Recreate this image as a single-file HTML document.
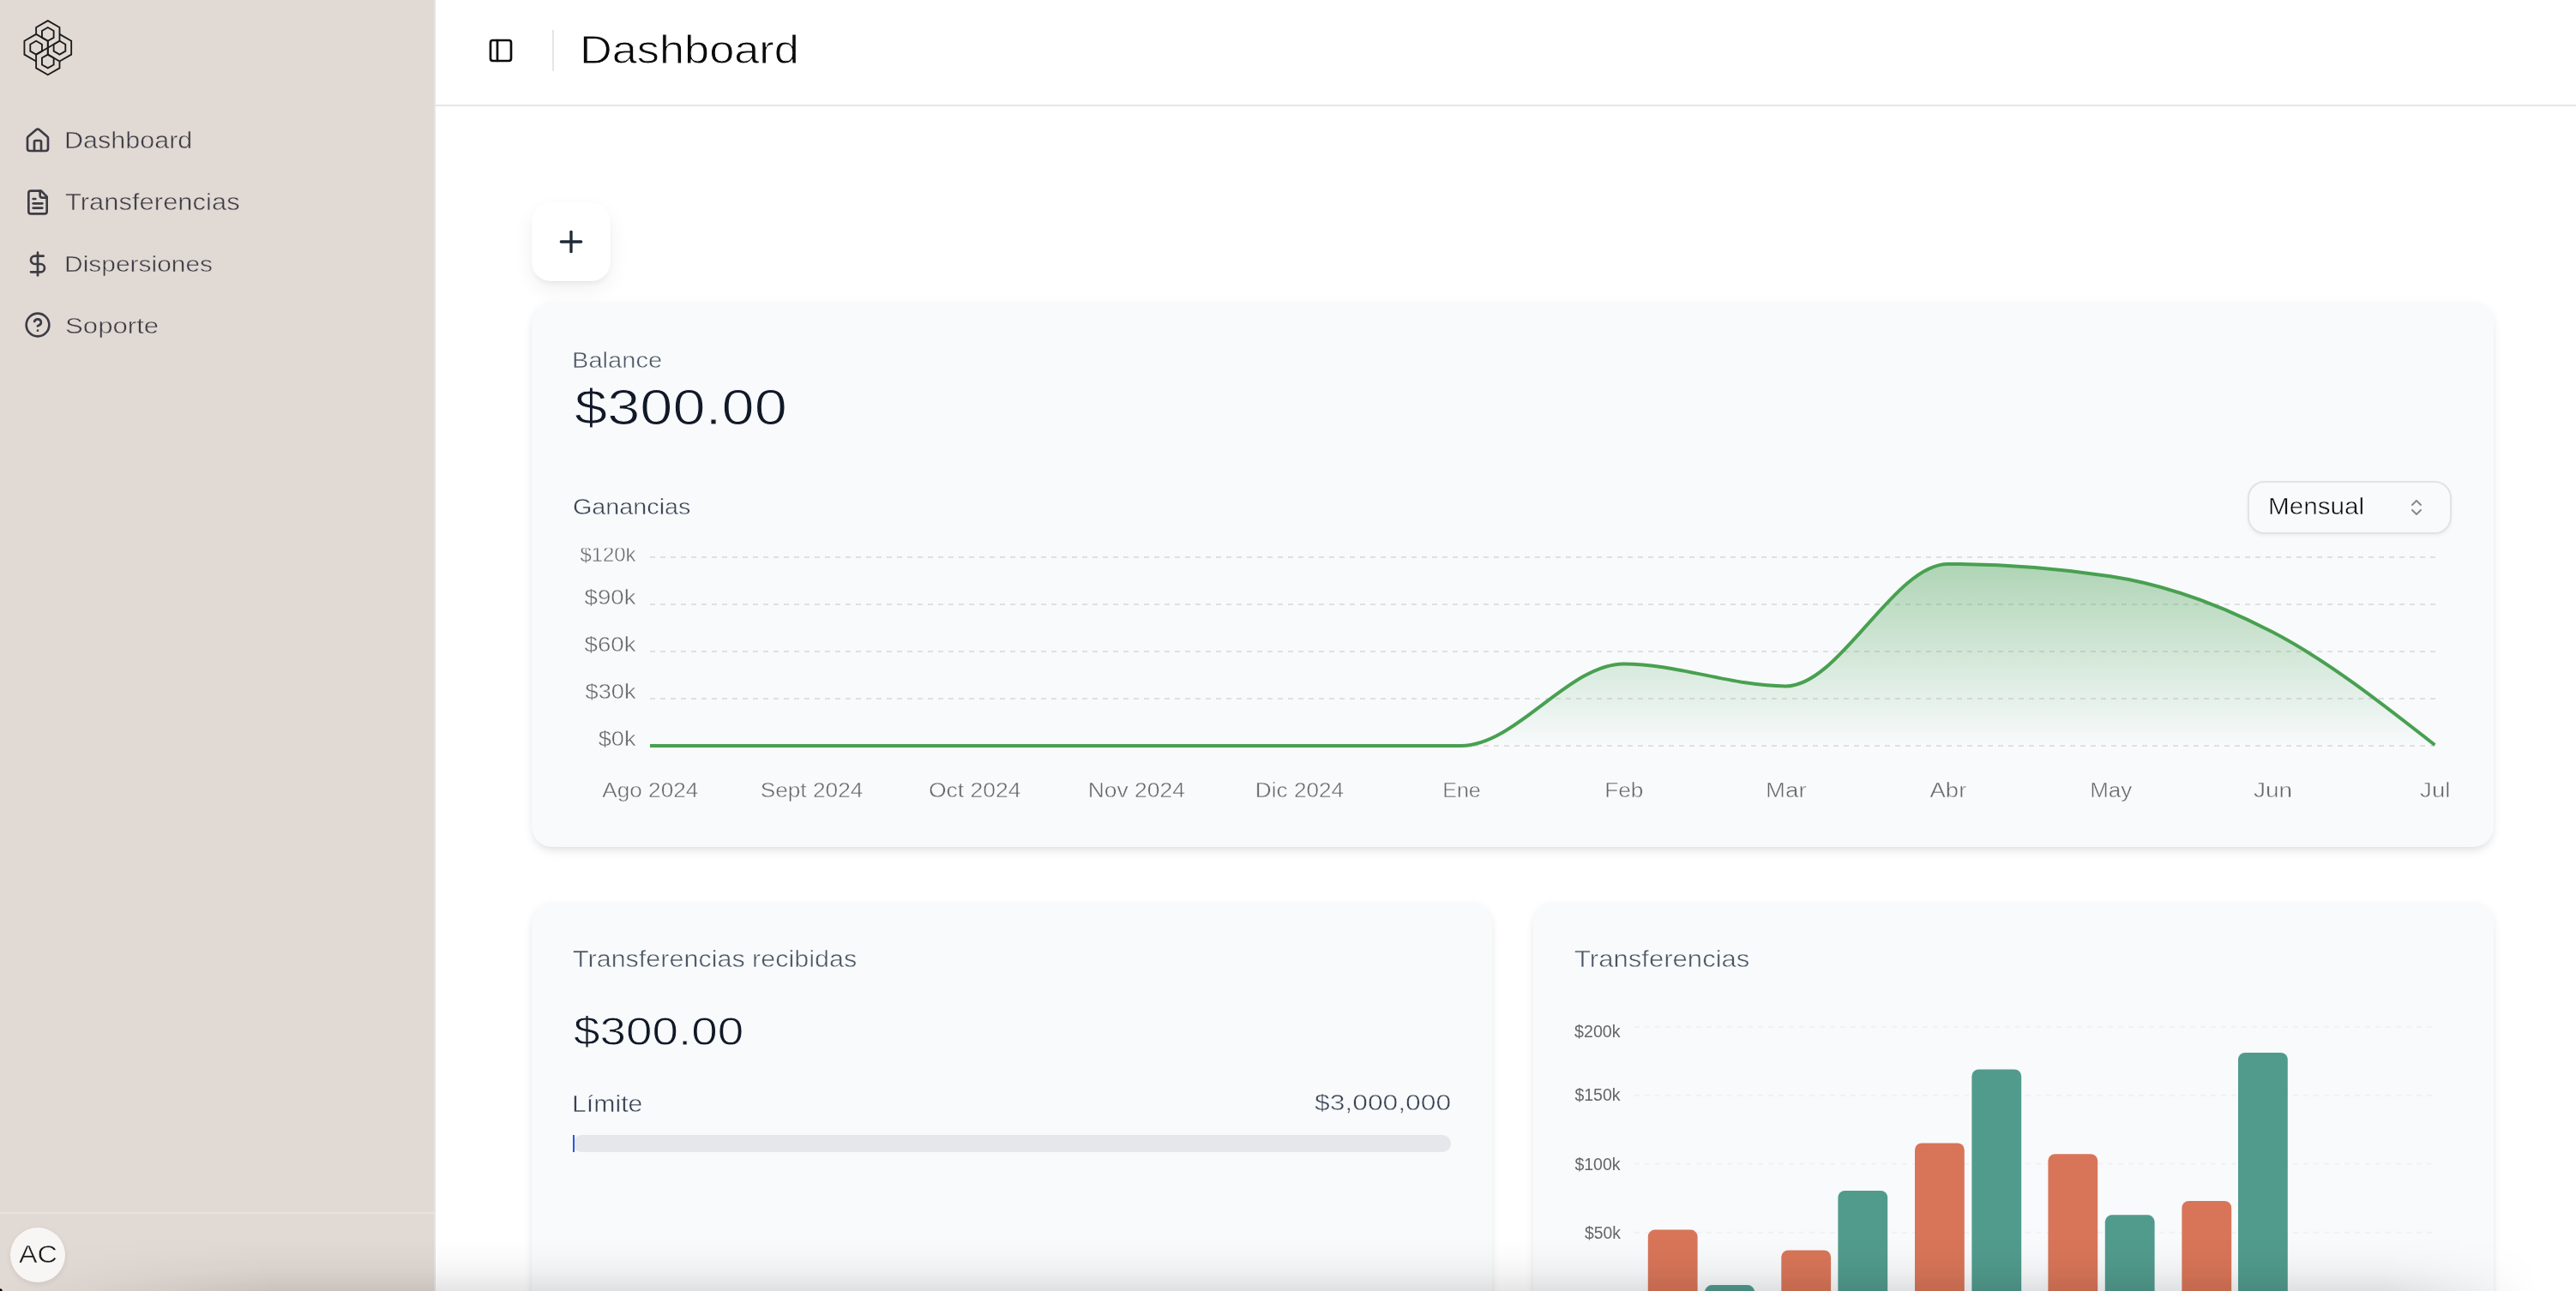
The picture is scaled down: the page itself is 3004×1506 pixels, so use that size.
<!DOCTYPE html><html><head><meta charset="utf-8"><style>
html,body{margin:0;padding:0;width:3004px;height:1506px;overflow:hidden;background:#fff;font-family:"Liberation Sans",sans-serif}
.abs{position:absolute}
.t{position:absolute;line-height:1;white-space:nowrap;transform-origin:0 0;font-family:"Liberation Sans",sans-serif}
.yl{text-align:right}
.yl span{display:inline-block;transform-origin:100% 0}
.xl{text-align:center}
.xl span{display:inline-block;transform-origin:50% 0}
#sb{position:absolute;left:0;top:0;width:506px;height:1506px;background:#e1d9d4}
#avatar{left:12px;top:1432px;width:64px;height:64px;border-radius:50%;background:#f8f6f4;box-shadow:0 2px 6px rgba(0,0,0,0.08)}
#plus{left:620px;top:236px;width:92px;height:92px;border-radius:22px;background:#fff;box-shadow:0 10px 24px rgba(0,0,0,0.06),0 4px 6px -2px rgba(0,0,0,0.06),0 0 2px rgba(0,0,0,0.02)}
.card{background:#f8fafc;border-radius:24px;box-shadow:0 8px 14px -3px rgba(0,0,0,0.06),0 4px 8px -4px rgba(0,0,0,0.05),0 3px 11px rgba(0,0,0,0.05)}
#sel{left:2621px;top:561px;width:234px;height:58px;border:2px solid #e3e3e3;border-radius:20px;background:#f8fafc;box-shadow:0 2px 4px rgba(0,0,0,0.05)}
#shade{left:0;top:1444px;width:3004px;height:62px;background:linear-gradient(to bottom,rgba(0,0,0,0) 0%,rgba(0,0,0,0.015) 35%,rgba(0,0,0,0.045) 65%,rgba(0,0,0,0.1) 100%);-webkit-mask-image:linear-gradient(to right,transparent 0,#000 320px,#000 2780px,transparent 2960px);mask-image:linear-gradient(to right,transparent 0,#000 320px,#000 2780px,transparent 2960px)}
</style></head><body><div id="sb"></div>
<svg class="abs" width="3004" height="1506" style="left:0;top:0"><g fill="none" stroke="#1c1c1c" stroke-width="1.85" stroke-linejoin="miter"><polyline points="42.12,39.90 42.12,32.00 55.80,24.10 69.48,32.00 69.48,47.80 55.80,55.70"/><polyline points="69.48,71.50 69.48,79.40 55.80,87.30 42.12,79.40 42.12,63.60 55.80,55.70"/><polyline points="42.12,71.50 28.43,63.60 28.43,47.80 42.12,39.90 55.80,47.80 55.80,63.60"/><polyline points="69.48,39.90 83.17,47.80 83.17,63.60 69.48,71.50 55.80,63.60 55.80,47.80"/><polygon points="55.80,32.00 62.64,35.95 62.64,43.85 55.80,47.80 48.96,43.85 48.96,35.95"/><polygon points="42.12,47.80 48.96,51.75 48.96,59.65 42.12,63.60 35.28,59.65 35.28,51.75"/><polygon points="69.48,47.80 76.32,51.75 76.32,59.65 69.48,63.60 62.64,59.65 62.64,51.75"/><polygon points="55.80,63.60 62.64,67.55 62.64,75.45 55.80,79.40 48.96,75.45 48.96,67.55"/></g></svg>
<svg class="abs" style="left:28px;top:147.8px" width="32" height="32" viewBox="0 0 24 24" fill="none" stroke="#3d3c44" stroke-width="2" stroke-linecap="round" stroke-linejoin="round"><path d="M15 21v-8a1 1 0 0 0-1-1h-4a1 1 0 0 0-1 1v8"/><path d="M3 10a2 2 0 0 1 .709-1.528l7-5.999a2 2 0 0 1 2.582 0l7 5.999A2 2 0 0 1 21 10v9a2 2 0 0 1-2 2H5a2 2 0 0 1-2-2z"/></svg>
<div class="t" style="left:74.72px;top:150.57px;font-size:26.74px;transform:scaleX(1.1414);color:#3d3c44;-webkit-text-stroke:0.50px #e1d9d4;">Dashboard</div>
<svg class="abs" style="left:28px;top:219.7px" width="32" height="32" viewBox="0 0 24 24" fill="none" stroke="#3d3c44" stroke-width="2" stroke-linecap="round" stroke-linejoin="round"><path d="M15 2H6a2 2 0 0 0-2 2v16a2 2 0 0 0 2 2h12a2 2 0 0 0 2-2V7Z"/><path d="M14 2v4a2 2 0 0 0 2 2h4"/><path d="M10 9H8"/><path d="M16 13H8"/><path d="M16 17H8"/></svg>
<div class="t" style="left:75.62px;top:221.74px;font-size:27.59px;transform:scaleX(1.1229);color:#3d3c44;-webkit-text-stroke:0.52px #e1d9d4;">Transferencias</div>
<svg class="abs" style="left:28px;top:291.5px" width="32" height="32" viewBox="0 0 24 24" fill="none" stroke="#3d3c44" stroke-width="2" stroke-linecap="round" stroke-linejoin="round"><line x1="12" x2="12" y1="2" y2="22"/><path d="M17 5H9.5a3.5 3.5 0 0 0 0 7h5a3.5 3.5 0 0 1 0 7H6"/></svg>
<div class="t" style="left:74.76px;top:294.75px;font-size:26.17px;transform:scaleX(1.1449);color:#3d3c44;-webkit-text-stroke:0.49px #e1d9d4;">Dispersiones</div>
<svg class="abs" style="left:28px;top:363.4px" width="32" height="32" viewBox="0 0 24 24" fill="none" stroke="#3d3c44" stroke-width="2" stroke-linecap="round" stroke-linejoin="round"><circle cx="12" cy="12" r="10"/><path d="M9.09 9a3 3 0 0 1 5.83 1c0 2-3 3-3 3"/><path d="M12 17h.01"/></svg>
<div class="t" style="left:76.13px;top:366.65px;font-size:26.17px;transform:scaleX(1.1918);color:#3d3c44;-webkit-text-stroke:0.49px #e1d9d4;">Soporte</div>
<div class="abs" style="left:0;top:1414px;width:506px;height:2px;background:#e6e3e1"></div>
<div class="abs" style="left:506px;top:0;width:2px;height:1506px;background:#e4e4e4"></div>
<div class="abs" style="left:508px;top:122px;width:2496px;height:2px;background:#e5e5e5"></div>
<svg class="abs" style="left:568.3px;top:42.7px" width="32" height="32" viewBox="0 0 24 24" fill="none" stroke="#0a0a0a" stroke-width="2" stroke-linecap="round" stroke-linejoin="round"><rect width="18" height="18" x="3" y="3" rx="2"/><path d="M9 3v18"/></svg>
<div class="abs" style="left:644px;top:35px;width:2px;height:48px;background:#e5e5e5"></div>
<div class="t" style="left:676.41px;top:35.25px;font-size:46.36px;transform:scaleX(1.1279);color:#0a0a0a;-webkit-text-stroke:0.87px #ffffff;">Dashboard</div>
<div class="abs" id="plus"></div>
<svg class="abs" style="left:646px;top:262px" width="40" height="40" viewBox="0 0 24 24" fill="none" stroke="#1f2937" stroke-width="2" stroke-linecap="round" stroke-linejoin="round"><path d="M5 12h14"/><path d="M12 5v14"/></svg>
<div class="abs card" style="left:620px;top:352px;width:2288px;height:636px"></div>
<div class="t" style="left:666.73px;top:406.63px;font-size:26.31px;transform:scaleX(1.1059);color:#4b5563;-webkit-text-stroke:0.49px #f8fafc;">Balance</div>
<div class="t" style="left:669.60px;top:445.96px;font-size:58.17px;transform:scaleX(1.1790);color:#111827;-webkit-text-stroke:1.09px #f8fafc;">$300.00</div>
<div class="t" style="left:667.55px;top:578.39px;font-size:26.60px;transform:scaleX(1.0810);color:#374151;-webkit-text-stroke:0.50px #f8fafc;">Ganancias</div>
<div class="abs" id="sel"></div>
<div class="t" style="left:2644.68px;top:578.15px;font-size:26.88px;transform:scaleX(1.1041);color:#0a0a0a;-webkit-text-stroke:0.51px #f8fafc;">Mensual</div>
<svg class="abs" style="left:2806px;top:580px" width="24" height="24" viewBox="0 0 24 24" fill="none" stroke="#8a8a8a" stroke-width="2" stroke-linecap="round" stroke-linejoin="round"><path d="m7 15 5 5 5-5"/><path d="m7 9 5-5 5 5"/></svg>
<svg class="abs" style="left:0;top:0" width="3004" height="1506"><defs><linearGradient id="gf" gradientUnits="userSpaceOnUse" x1="0" y1="658" x2="0" y2="870"><stop offset="0" stop-color="#4aa052" stop-opacity="0.42"/><stop offset="1" stop-color="#4aa052" stop-opacity="0"/></linearGradient></defs><line x1="758" x2="2840" y1="650" y2="650" stroke="#e0e0e0" stroke-width="2" stroke-dasharray="6 6"/><line x1="758" x2="2840" y1="705" y2="705" stroke="#e0e0e0" stroke-width="2" stroke-dasharray="6 6"/><line x1="758" x2="2840" y1="760" y2="760" stroke="#e0e0e0" stroke-width="2" stroke-dasharray="6 6"/><line x1="758" x2="2840" y1="815" y2="815" stroke="#e0e0e0" stroke-width="2" stroke-dasharray="6 6"/><line x1="758" x2="2840" y1="870" y2="870" stroke="#e0e0e0" stroke-width="2" stroke-dasharray="6 6"/><path d="M758.00,870.00C821.07,870.00 884.14,870.00 947.21,870.00C1010.28,870.00 1073.35,870.00 1136.42,870.00C1199.49,870.00 1262.56,870.00 1325.63,870.00C1388.70,870.00 1451.77,870.00 1514.84,870.00C1577.91,870.00 1640.98,870.00 1704.05,870.00C1767.12,870.00 1830.19,774.40 1893.26,774.40C1956.33,774.40 2019.40,800.40 2082.47,800.40C2145.54,800.40 2208.61,657.90 2271.68,657.90C2334.75,657.90 2397.82,662.67 2460.89,672.20C2523.96,681.73 2587.03,704.50 2650.10,737.30C2713.17,770.10 2776.24,819.55 2839.31,869.00L2839.31,870L758.00,870Z" fill="url(#gf)"/><path d="M758.00,870.00C821.07,870.00 884.14,870.00 947.21,870.00C1010.28,870.00 1073.35,870.00 1136.42,870.00C1199.49,870.00 1262.56,870.00 1325.63,870.00C1388.70,870.00 1451.77,870.00 1514.84,870.00C1577.91,870.00 1640.98,870.00 1704.05,870.00C1767.12,870.00 1830.19,774.40 1893.26,774.40C1956.33,774.40 2019.40,800.40 2082.47,800.40C2145.54,800.40 2208.61,657.90 2271.68,657.90C2334.75,657.90 2397.82,662.67 2460.89,672.20C2523.96,681.73 2587.03,704.50 2650.10,737.30C2713.17,770.10 2776.24,819.55 2839.31,869.00" fill="none" stroke="#48a050" stroke-width="4"/></svg>
<div class="t yl" style="left:541.5px;width:200px;top:636.48px;font-size:23.3px;color:#666666;-webkit-text-stroke:0.45px #f8fafc;clip-path:inset(3.12px 0 0 0);"><span style="transform:scaleX(1.024)">$120k</span></div>
<div class="t yl" style="left:541.5px;width:200px;top:686.18px;font-size:23.3px;color:#666666;-webkit-text-stroke:0.45px #f8fafc;"><span style="transform:scaleX(1.187)">$90k</span></div>
<div class="t yl" style="left:541.5px;width:200px;top:740.58px;font-size:23.3px;color:#666666;-webkit-text-stroke:0.45px #f8fafc;"><span style="transform:scaleX(1.187)">$60k</span></div>
<div class="t yl" style="left:541.5px;width:200px;top:795.98px;font-size:23.3px;color:#666666;-webkit-text-stroke:0.45px #f8fafc;"><span style="transform:scaleX(1.168)">$30k</span></div>
<div class="t yl" style="left:541.5px;width:200px;top:851.28px;font-size:23.3px;color:#666666;-webkit-text-stroke:0.45px #f8fafc;"><span style="transform:scaleX(1.168)">$0k</span></div>
<div class="t xl" style="left:608.00px;width:300px;top:910.60px;font-size:23.04px;color:#666666;-webkit-text-stroke:0.45px #f8fafc"><span style="transform:scaleX(1.1369)">Ago 2024</span></div>
<div class="t xl" style="left:797.00px;width:300px;top:910.60px;font-size:23.04px;color:#666666;-webkit-text-stroke:0.45px #f8fafc"><span style="transform:scaleX(1.1392)">Sept 2024</span></div>
<div class="t xl" style="left:986.50px;width:300px;top:910.60px;font-size:23.04px;color:#666666;-webkit-text-stroke:0.45px #f8fafc"><span style="transform:scaleX(1.1509)">Oct 2024</span></div>
<div class="t xl" style="left:1175.50px;width:300px;top:910.60px;font-size:23.04px;color:#666666;-webkit-text-stroke:0.45px #f8fafc"><span style="transform:scaleX(1.1480)">Nov 2024</span></div>
<div class="t xl" style="left:1365.00px;width:300px;top:910.60px;font-size:23.04px;color:#666666;-webkit-text-stroke:0.45px #f8fafc"><span style="transform:scaleX(1.1348)">Dic 2024</span></div>
<div class="t xl" style="left:1554.50px;width:300px;top:910.60px;font-size:23.04px;color:#666666;-webkit-text-stroke:0.45px #f8fafc"><span style="transform:scaleX(1.0846)">Ene</span></div>
<div class="t xl" style="left:1743.80px;width:300px;top:910.60px;font-size:23.04px;color:#666666;-webkit-text-stroke:0.45px #f8fafc"><span style="transform:scaleX(1.1415)">Feb</span></div>
<div class="t xl" style="left:1933.00px;width:300px;top:910.60px;font-size:23.04px;color:#666666;-webkit-text-stroke:0.45px #f8fafc"><span style="transform:scaleX(1.1995)">Mar</span></div>
<div class="t xl" style="left:2122.20px;width:300px;top:910.60px;font-size:23.04px;color:#666666;-webkit-text-stroke:0.45px #f8fafc"><span style="transform:scaleX(1.1919)">Abr</span></div>
<div class="t xl" style="left:2311.50px;width:300px;top:910.60px;font-size:23.04px;color:#666666;-webkit-text-stroke:0.45px #f8fafc"><span style="transform:scaleX(1.1288)">May</span></div>
<div class="t xl" style="left:2500.70px;width:300px;top:910.60px;font-size:23.04px;color:#666666;-webkit-text-stroke:0.45px #f8fafc"><span style="transform:scaleX(1.2171)">Jun</span></div>
<div class="t xl" style="left:2689.30px;width:300px;top:910.60px;font-size:23.04px;color:#666666;-webkit-text-stroke:0.45px #f8fafc"><span style="transform:scaleX(1.1968)">Jul</span></div>
<div class="abs card" style="left:620px;top:1052px;width:1120px;height:700px"></div>
<div class="t" style="left:667.72px;top:1106.47px;font-size:26.74px;transform:scaleX(1.1411);color:#4b5563;-webkit-text-stroke:0.50px #f8fafc;">Transferencias recibidas</div>
<div class="t" style="left:669.30px;top:1179.79px;font-size:46.08px;transform:scaleX(1.1909);color:#111827;-webkit-text-stroke:0.87px #f8fafc;">$300.00</div>
<div class="t" style="left:666.54px;top:1273.98px;font-size:27.31px;transform:scaleX(1.1080);color:#374151;-webkit-text-stroke:0.51px #f8fafc;">Límite</div>
<div class="t" style="left:1532.80px;top:1274.49px;font-size:25.88px;transform:scaleX(1.2288);color:#374151;-webkit-text-stroke:0.49px #f8fafc;">$3,000,000</div>
<div class="abs" style="left:668px;top:1324px;width:1024px;height:20px;border-radius:10px;background:#e5e7eb"></div>
<div class="abs" style="left:668px;top:1324px;width:2px;height:20px;background:#2f55e4"></div>
<div class="abs card" style="left:1788px;top:1052px;width:1120px;height:700px"></div>
<div class="t" style="left:1835.51px;top:1106.03px;font-size:27.02px;transform:scaleX(1.1505);color:#4b5563;-webkit-text-stroke:0.51px #f8fafc;">Transferencias</div>
<svg class="abs" style="left:0;top:0" width="3004" height="1506"><line x1="1906" x2="2837" y1="1197.7" y2="1197.7" stroke="#f0f1f2" stroke-width="2" stroke-dasharray="6 6"/><line x1="1906" x2="2837" y1="1277.8" y2="1277.8" stroke="#f0f1f2" stroke-width="2" stroke-dasharray="6 6"/><line x1="1906" x2="2837" y1="1357.6" y2="1357.6" stroke="#f0f1f2" stroke-width="2" stroke-dasharray="6 6"/><line x1="1906" x2="2837" y1="1437.7" y2="1437.7" stroke="#f0f1f2" stroke-width="2" stroke-dasharray="6 6"/><rect x="1921.8" y="1434.6" width="57.8" height="125.4" rx="8" fill="#d87558"/><rect x="1988.2" y="1499.1" width="57.8" height="60.9" rx="8" fill="#519b8d"/><rect x="2077.3" y="1458.4" width="57.8" height="101.6" rx="8" fill="#d87558"/><rect x="2143.4" y="1388.9" width="57.8" height="171.1" rx="8" fill="#519b8d"/><rect x="2233.0" y="1333.4" width="57.8" height="226.6" rx="8" fill="#d87558"/><rect x="2299.4" y="1247.4" width="57.8" height="312.6" rx="8" fill="#519b8d"/><rect x="2388.4" y="1346.2" width="57.8" height="213.8" rx="8" fill="#d87558"/><rect x="2454.8" y="1417.3" width="57.8" height="142.7" rx="8" fill="#519b8d"/><rect x="2544.4" y="1401.0" width="57.8" height="159.0" rx="8" fill="#d87558"/><rect x="2610.0" y="1228.0" width="57.8" height="332.0" rx="8" fill="#519b8d"/></svg>
<div class="t yl" style="left:1689.5px;width:200px;top:1192.73px;font-size:20.76px;color:#666666"><span style="transform:scaleX(0.946)">$200k</span></div>
<div class="t yl" style="left:1689.5px;width:200px;top:1267.33px;font-size:20.76px;color:#666666"><span style="transform:scaleX(0.94)">$150k</span></div>
<div class="t yl" style="left:1689.5px;width:200px;top:1348.13px;font-size:20.76px;color:#666666"><span style="transform:scaleX(0.94)">$100k</span></div>
<div class="t yl" style="left:1689.5px;width:200px;top:1427.73px;font-size:20.76px;color:#666666"><span style="transform:scaleX(0.931)">$50k</span></div>
<div class="abs" id="shade"></div>
<div class="abs" id="avatar"></div>
<div class="t" style="left:21.80px;top:1448.22px;font-size:29.87px;transform:scaleX(1.0852);color:#1a1a1a;-webkit-text-stroke:0.56px #f8f6f4;">AC</div>
<div class="abs" style="left:0;top:1500px;width:6px;height:6px;background:radial-gradient(circle at 0 100%,#000 0,#000 2px,rgba(0,0,0,0) 3.5px)"></div></body></html>
